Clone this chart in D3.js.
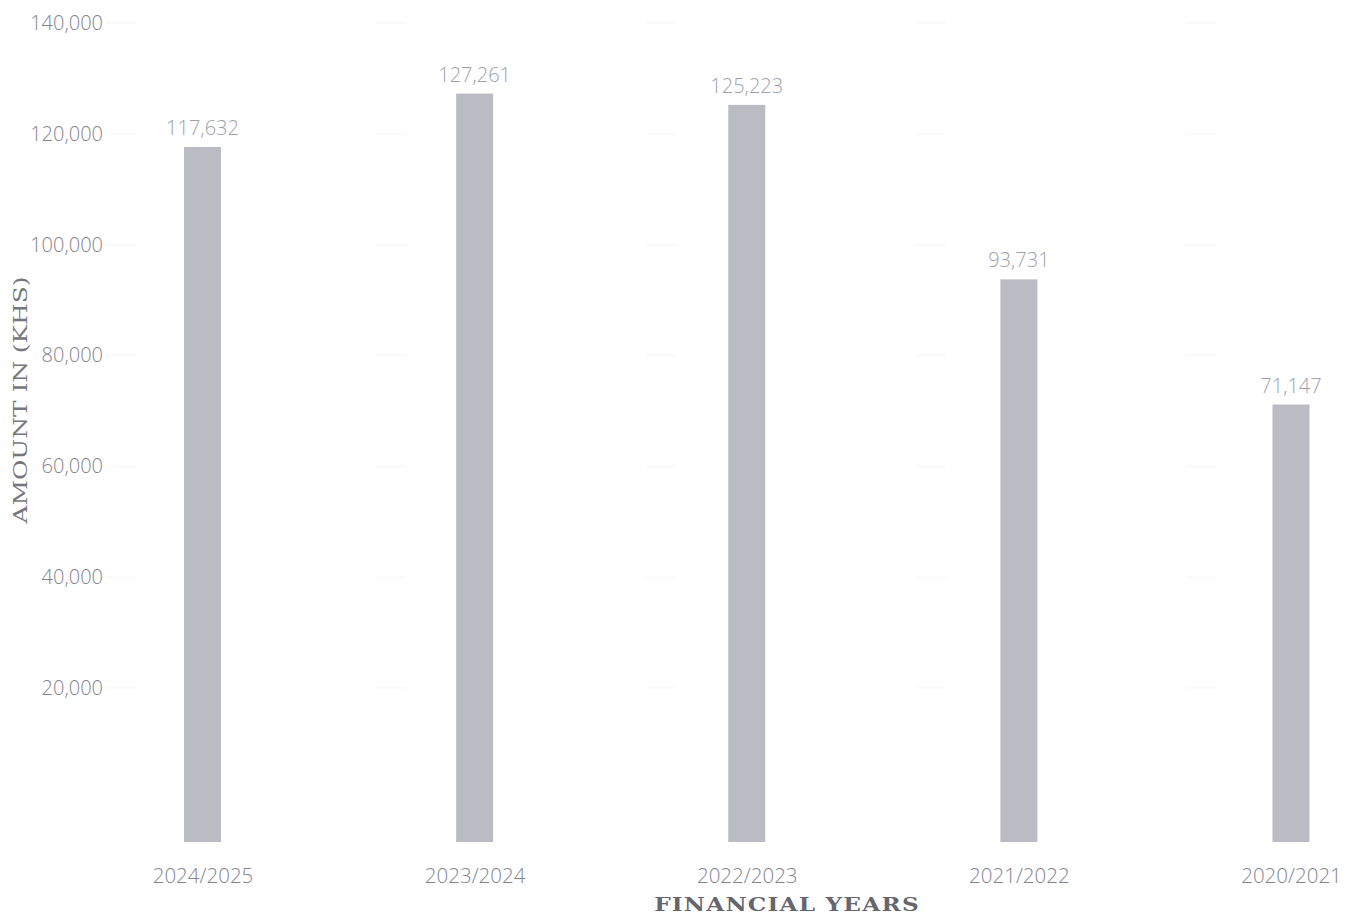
<!DOCTYPE html>
<html>
<head>
<meta charset="utf-8">
<script src="https://cdn.jsdelivr.net/npm/d3@7"></script>
<style>
  html, body { margin: 0; padding: 0; background: #ffffff; }
  svg { display: block; }
  .tick-label { font-family: "Open Sans", Lato, sans-serif; font-weight: 300; fill: #84848f; }
  .axis-title { font-family: "DejaVu Serif", serif; fill: #66666e; }
</style>
</head>
<body>
<svg id="chart" width="1361" height="921"></svg>
<script>
// Financial years, in the order shown
const years = ["2024/2025", "2023/2024", "2022/2023", "2021/2022", "2020/2021"];
// Amount per year, in KHS
const amounts = [117632, 127261, 125223, 93731, 71147];
// Y axis tick values
const yTicks = [20000, 40000, 60000, 80000, 100000, 120000, 140000];
// Bars are drawn down to the floor of the axis, a little below zero
const axisFloor = -7800;
const axisTop = 140000;

const svg = d3.select("#chart");

const x = d3.scalePoint()
  .domain(years)
  .range([202.5, 1291]);

const y = d3.scaleLinear()
  .domain([axisFloor, axisTop])
  .range([842, 23]);

const barWidth = 37;
const fmt = d3.format(",");

// faint gridline ghosts
const grid = svg.append("g");
grid.selectAll("line.h")
  .data(yTicks)
  .join("line")
  .attr("x1", 106).attr("x2", 1340)
  .attr("y1", d => y(d)).attr("y2", d => y(d))
  .attr("stroke", "#f5f5f7")
  .attr("stroke-width", 1)
  .attr("stroke-dasharray", "30,240");

// y axis tick labels
const yAxis = d3.axisLeft(y)
  .tickValues(yTicks)
  .tickFormat(fmt)
  .tickSize(0)
  .tickPadding(0);

svg.append("g")
  .attr("transform", "translate(103,0)")
  .call(yAxis)
  .call(g => g.select(".domain").remove())
  .call(g => g.selectAll("text")
    .attr("class", "tick-label")
    .attr("font-size", 20));

// x axis labels
const xAxis = d3.axisBottom(x).tickSize(0).tickPadding(0);
svg.append("g")
  .attr("transform", "translate(0,861)")
  .call(xAxis)
  .call(g => g.select(".domain").remove())
  .call(g => g.selectAll("text")
    .attr("class", "tick-label")
    .attr("font-size", 20.5)
    .attr("dy", "1.05em"));

// bars
svg.append("g")
  .selectAll("rect")
  .data(amounts)
  .join("rect")
  .attr("x", (d, i) => x(years[i]) - barWidth / 2)
  .attr("width", barWidth)
  .attr("y", d => y(d))
  .attr("height", d => y(axisFloor) - y(d))
  .attr("fill", "#bbbbc3");

// value labels
svg.append("g")
  .selectAll("text")
  .data(amounts)
  .join("text")
  .attr("class", "tick-label")
  .attr("x", (d, i) => x(years[i]))
  .attr("y", d => y(d) - 12)
  .attr("text-anchor", "middle")
  .attr("font-size", 20)
  .style("fill", "#a0a0ac")
  .text(d => fmt(d));

// axis titles
svg.append("text")
  .attr("class", "axis-title")
  .attr("transform", "translate(787,911) scale(1.22,1)")
  .attr("text-anchor", "middle")
  .attr("font-size", 19)
  .attr("font-weight", "bold")
  .attr("letter-spacing", 1)
  .text("FINANCIAL YEARS");

svg.append("text")
  .attr("class", "axis-title")
  .attr("transform", "translate(27,400) rotate(-90) scale(1.38,1)")
  .attr("text-anchor", "middle")
  .attr("font-size", 18)
  .style("fill", "#76767e")
  .text("AMOUNT IN (KHS)");
</script>
</body>
</html>
